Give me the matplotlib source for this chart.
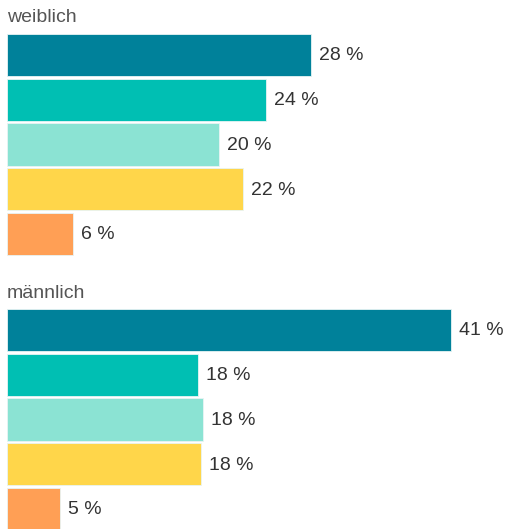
import matplotlib
matplotlib.use("Agg")
import matplotlib.pyplot as plt
from matplotlib.transforms import offset_copy

plt.rcParams['font.family'] = ['Liberation Sans', 'DejaVu Sans']

groups = ["weiblich", "männlich"]
values_weiblich = [28.05, 23.9, 19.6, 21.8, 6.1]
values_maennlich = [41.0, 17.65, 18.1, 17.9, 4.9]
labels_weiblich = ["28 %", "24 %", "20 %", "22 %", "6 %"]
labels_maennlich = ["41 %", "18 %", "18 %", "18 %", "5 %"]
colors = ["#00819A", "#00BFB3", "#8BE3D3", "#FFD64A", "#FF9F55"]

W, H = 509, 529
fig = plt.figure(figsize=(W / 100, H / 100), dpi=100)

unit = 44.75
left_px = 7
px_per_pct = 10.83
xmax = (W - left_px) / px_per_pct

tops = [32.6, 307.6]
title_y = [18, 294]
data = [(values_weiblich, labels_weiblich), (values_maennlich, labels_maennlich)]

for g, (vals, labs) in enumerate(data):
    top = tops[g]
    hgt = 5 * unit
    ax = fig.add_axes([left_px / W, (H - top - hgt) / H, (W - left_px) / W, hgt / H])
    ypos = list(range(len(vals)))
    ax.barh(ypos, vals, height=0.94, color=colors, edgecolor="#e8f4f4", linewidth=0.6)
    ax.set_xlim(0, xmax)
    ax.set_ylim(len(vals) - 0.5, -0.5)
    ax.axis("off")
    trans = offset_copy(ax.transData, fig=fig, x=8, y=-1, units="dots")
    for y, v, lab in zip(ypos, vals, labs):
        ax.text(v, y, lab, transform=trans, ha="left", va="center",
                fontsize=14, color="#333333")
    fig.text(left_px / W, 1 - title_y[g] / H, groups[g], ha="left", va="center",
             fontsize=14, color="#555555")

fig.savefig("out.png", dpi=100)
